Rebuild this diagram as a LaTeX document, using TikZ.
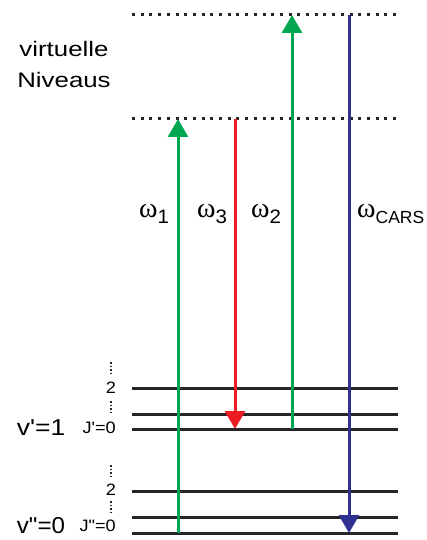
\documentclass[tikz,border=0pt]{standalone}
\usepackage{fontspec}
\setmainfont{Liberation Sans}
\newfontfamily\omfont{Liberation Serif}
\usetikzlibrary{arrows.meta}
\definecolor{cgreen}{RGB}{0,166,81}
\definecolor{cred}{RGB}{237,28,36}
\definecolor{cblue}{RGB}{46,49,146}
\newcommand\wid[2][1.2]{\scalebox{#1}[1]{#2}}
\newcommand\sq{\textquotesingle}
\newcommand\dq{\textquotedbl}
\newcommand\omlab[1]{{\omfont\fontsize{28}{28}\selectfont ω}\raisebox{-6pt}{\fontsize{19.5}{19.5}\selectfont\wid[1.05]{#1}}}
\begin{document}
\begin{tikzpicture}[x=1pt,y=-1pt,
  level/.style={line width=3pt, black!85},
  virt/.style={line width=3pt, black!85, dash pattern=on 3pt off 5.7pt},
  beam/.style={line width=3pt, -{Triangle[width=20pt,length=18pt]}},
  lbl/.style={inner sep=0pt, font=\fontsize{16.5}{16.5}\selectfont},
  big/.style={inner sep=0pt, font=\fontsize{23}{23}\selectfont},
  om/.style={inner sep=0pt, anchor=base west},
  vdots/.style={line width=1.5pt, black!85, dash pattern=on 1.5pt off 2pt}]
\useasboundingbox (0,0) rectangle (427,540);
% virtual levels
\coordinate (vt1) at (132,15); \coordinate (vt2) at (398,15);
\coordinate (vl1) at (132,119); \coordinate (vl2) at (398,119);
\draw[virt] (vt1) -- (vt2);
\draw[virt] (vl1) -- (vl2);
% rotational-vibrational levels
\coordinate (a1) at (132,388); \coordinate (a2) at (398,388);
\coordinate (b1) at (132,414); \coordinate (b2) at (398,414);
\coordinate (c1) at (132,429); \coordinate (c2) at (398,429);
\coordinate (d1) at (132,491); \coordinate (d2) at (398,491);
\coordinate (e1) at (132,517); \coordinate (e2) at (398,517);
\coordinate (f1) at (132,533); \coordinate (f2) at (398,533);
\foreach \p in {a,b,c,d,e,f}{\draw[level] (\p1) -- (\p2);}
% beams
\coordinate (g1s) at (178,533); \coordinate (g1e) at (178,119);
\coordinate (rs) at (235,119); \coordinate (re) at (235,429);
\coordinate (g2s) at (292,429); \coordinate (g2e) at (292,15);
\coordinate (bs) at (349,15); \coordinate (be) at (349,533);
\draw[beam, cgreen] (g1s) -- (g1e);
\draw[beam, cred] (rs) -- (re);
\draw[beam, cgreen] (g2s) -- (g2e);
\draw[beam, cblue] (bs) -- (be);
% labels
\node[om] (w1) at (139,217) {\omlab{1}};
\node[om] (w3) at (197,217) {\omlab{3}};
\node[om] (w2) at (251,217) {\omlab{2}};
\node[om] (wc) at (357,217) {{\omfont\fontsize{28}{28}\selectfont ω}\raisebox{-6pt}{\fontsize{17.5}{17.5}\selectfont\wid[1.0]{CARS}}};
\node[inner sep=0pt, anchor=base] (virt1) at (64,57) {\fontsize{21}{21}\selectfont\wid[1.23]{virtuelle}};
\node[inner sep=0pt, anchor=base] (virt2) at (64,88) {\fontsize{21}{21}\selectfont\wid[1.23]{Niveaus}};
\node[big, anchor=base] (v1) at (41,435) {\wid[1.15]{v\sq=1}};
\node[big, anchor=base] (v0) at (41,533) {\wid[1.05]{v\dq=0}};
\node[lbl, anchor=base east] (j1) at (116,433) {\wid[1.1]{J\sq=0}};
\node[lbl, anchor=base east] (j0) at (116,531) {\wid[1.1]{J\dq=0}};
\node[lbl] (n2a) at (111,388) {\wid[1.1]{2}};
\node[lbl] (n2b) at (111,490) {\wid[1.1]{2}};
\coordinate (d1a) at (111,362); \coordinate (d1b) at (111,375);
\coordinate (d2a) at (111,401); \coordinate (d2b) at (111,414);
\coordinate (d3a) at (111,465); \coordinate (d3b) at (111,478);
\coordinate (d4a) at (111,501); \coordinate (d4b) at (111,514);
\foreach \p in {1,2,3,4}{\draw[vdots] (d\p a) -- (d\p b);}
\end{tikzpicture}
\end{document}
